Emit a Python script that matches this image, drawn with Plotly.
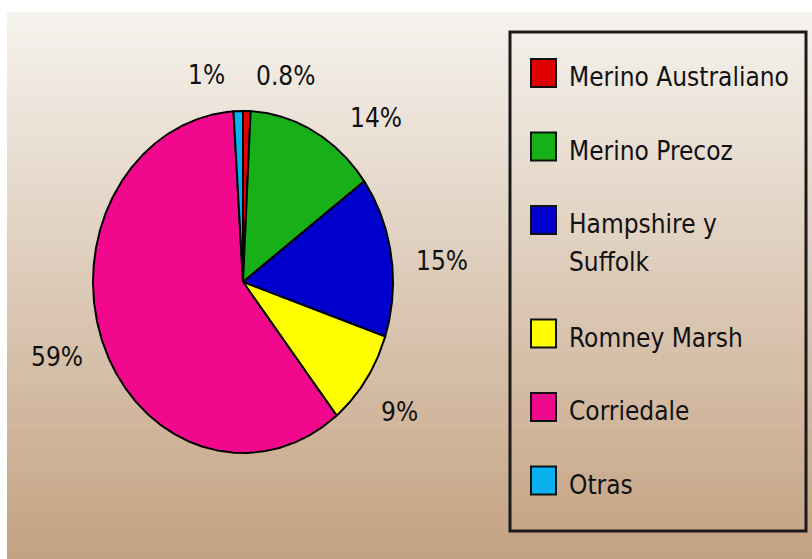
import numpy as np
import plotly.graph_objects as go

# Sheep breed shares (percent) as printed on the slices
breeds = ["Merino Australiano", "Merino Precoz", "Hampshire y<br>Suffolk",
          "Romney Marsh", "Corriedale", "Otras"]
shares = [0.8, 14, 15, 9, 59, 1]
share_text = ["0.8%", "14%", "15%", "9%", "59%", "1%"]
colors = ["#E00000", "#18B018", "#0000CC", "#FFFF00", "#F2088C", "#08B0F0"]

W, H = 812, 559
FONT = "Liberation Sans Narrow, DejaVu Sans Condensed, Arial Narrow, sans-serif"

# Elliptical pie geometry (pixel space of the canvas)
CX, CY, RX, RY = 243, 282, 150, 171
LABEL_R = 1.3
label_nudge = [(38, 16), (40, 32), (6, 13), (-3, 3), (-4, -5), (-30, 15)]

fig = go.Figure()

# Background: vertical gradient made of thin bands
top_rgb = np.array([245, 242, 237])
bot_rgb = np.array([196, 162, 130])
bg_x0, bg_y0 = 7, 12
n_bands = 140
edges = np.linspace(bg_y0, H, n_bands + 1)
shapes = []
for i in range(n_bands):
    t = i / (n_bands - 1)
    c = (top_rgb * (1 - t) + bot_rgb * t).round().astype(int)
    shapes.append(dict(type="rect", xref="x", yref="y", layer="below",
                       x0=bg_x0, x1=W, y0=edges[i], y1=edges[i + 1] + 0.6,
                       line=dict(width=0), fillcolor=f"rgb({c[0]},{c[1]},{c[2]})"))

# Pie slices, clockwise from 12 o'clock
vals = np.array(shares, dtype=float)
frac = vals / vals.sum()
ends = np.cumsum(frac) * 360.0
starts = ends - frac * 360.0
annotations = []
for i, (a0, a1) in enumerate(zip(starts, ends)):
    t = np.radians(np.linspace(a0, a1, max(int((a1 - a0) * 2), 4)))
    xs = np.concatenate([[CX], CX + RX * np.sin(t), [CX]])
    ys = np.concatenate([[CY], CY - RY * np.cos(t), [CY]])
    fig.add_trace(go.Scatter(x=xs, y=ys, mode="lines", fill="toself",
                             fillcolor=colors[i],
                             line=dict(color="#000000", width=2),
                             hoverinfo="text", text=share_text[i],
                             showlegend=False))
    mid = np.radians((a0 + a1) / 2)
    lx = CX + LABEL_R * RX * np.sin(mid) + label_nudge[i][0]
    ly = CY - LABEL_R * RY * np.cos(mid) + label_nudge[i][1]
    annotations.append(dict(x=lx, y=ly, xref="x", yref="y", text=share_text[i],
                            showarrow=False, xanchor="center", yanchor="middle",
                            font=dict(family=FONT, size=26, color="#111111")))

# Legend box with colour squares
shapes.append(dict(type="rect", xref="x", yref="y", x0=510, x1=806, y0=32, y1=531,
                   line=dict(color="#1a1a1a", width=3), fillcolor="rgba(0,0,0,0)"))
row_y = 73
LINE_H = 38
for i, name in enumerate(breeds):
    lines = name.split("<br>")
    shapes.append(dict(type="rect", xref="x", yref="y", x0=531, x1=556,
                       y0=row_y - 14, y1=row_y + 14,
                       line=dict(color="#111111", width=2), fillcolor=colors[i]))
    for k, ln in enumerate(lines):
        annotations.append(dict(x=567, y=row_y + 4 + k * LINE_H, xref="x", yref="y",
                                text=ln, showarrow=False, xanchor="left",
                                yanchor="middle",
                                font=dict(family=FONT, size=26, color="#111111")))
    row_y += 73.5 + (len(lines) - 1) * 40

fig.update_layout(
    width=W, height=H, margin=dict(l=0, r=0, t=0, b=0),
    paper_bgcolor="#ffffff", plot_bgcolor="rgba(0,0,0,0)",
    xaxis=dict(range=[0, W], visible=False, fixedrange=True, domain=[0, 1]),
    yaxis=dict(range=[H, 0], visible=False, fixedrange=True, domain=[0, 1]),
    shapes=shapes, annotations=annotations, showlegend=False,
)

fig.write_html("out.html")
